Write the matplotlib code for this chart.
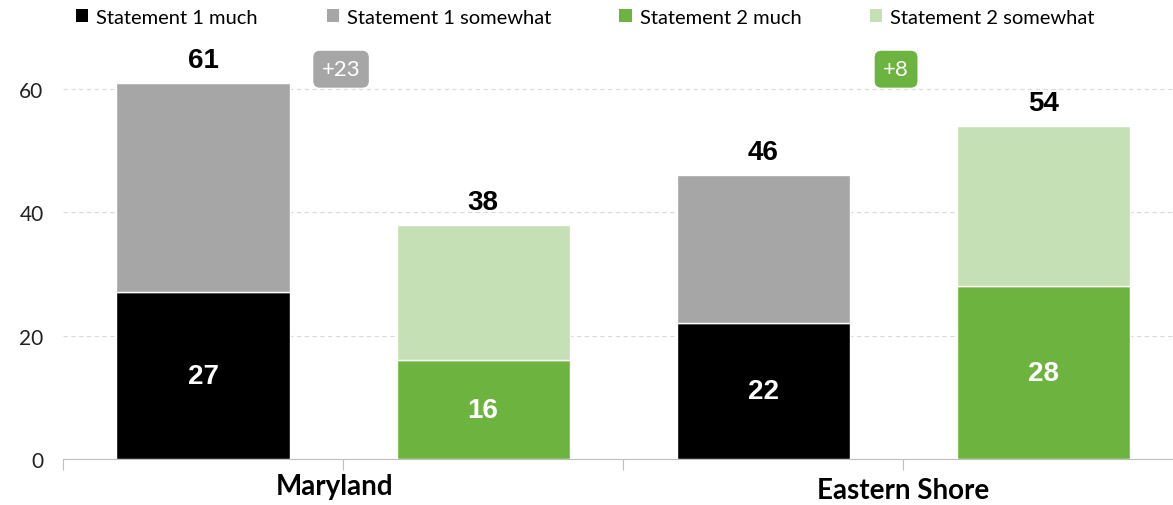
import numpy as np
import matplotlib.pyplot as plt
from matplotlib.patches import Patch

plt.rcParams['font.family'] = ['Lato', 'DejaVu Sans']

# data
groups = ['Maryland', 'Eastern Shore']
much = [27, 16, 22, 28]
somewhat = [34, 22, 24, 26]
totals = [61, 38, 46, 54]
diffs = ['+23', '+8']
much_colors = ['#000000', '#6DB33F', '#000000', '#6DB33F']
some_colors = ['#A6A6A6', '#C5E0B4', '#A6A6A6', '#C5E0B4']
legend_labels = ['Statement 1 much', 'Statement 1 somewhat', 'Statement 2 much', 'Statement 2 somewhat']
legend_colors = ['#000000', '#A6A6A6', '#6DB33F', '#C5E0B4']

fig = plt.figure(figsize=(11.73, 5.06), dpi=100)
ax = fig.add_axes([63 / 1173, 46 / 506, 1 - 63 / 1173, 431.7 / 506])

x = np.arange(len(much))
w = 0.618
ax.bar(x, much, w, color=much_colors, edgecolor='white', linewidth=1, zorder=3)
ax.bar(x, somewhat, w, bottom=much, color=some_colors, edgecolor='white', linewidth=1, zorder=3)

for i in range(len(x)):
    ax.text(x[i], totals[i] + 1.6, str(totals[i]), ha='center', va='bottom',
            fontsize=20, fontweight='bold', family='Liberation Sans')
    ax.text(x[i], much[i] / 2, str(much[i]), ha='center', va='center', color='white',
            fontsize=20, fontweight='bold', family='Liberation Sans')

# difference badges
badge_cols = ['#A6A6A6', '#6DB33F']
for j, (xx, d) in enumerate(zip([0.493, 2.475], diffs)):
    ax.text(xx, 63.2, d, ha='center', va='center', color='white', fontsize=16,
            bbox=dict(boxstyle='round,pad=0.38,rounding_size=0.3', fc=badge_cols[j], ec='none'))

ax.set_xlim(-0.5, 3.464)
ax.set_ylim(0, 70)
ax.set_yticks([0, 20, 40, 60])
ax.tick_params(axis='y', length=0, labelsize=15, pad=14)
ax.yaxis.grid(True, color='#D9D9D9', linestyle=(0, (4, 3)), linewidth=0.8, zorder=0)
for lab in ax.get_yticklabels():
    lab.set_color('#222222')

ax.set_xticks([-0.5, 0.5, 1.5, 2.5])
ax.set_xticklabels([])
ax.tick_params(axis='x', length=8, color='#BFBFBF', direction='out')
for s in ['top', 'right', 'left']:
    ax.spines[s].set_visible(False)
ax.spines['bottom'].set_color('#BFBFBF')

ax.text(0.47, -4.4, groups[0], ha='center', va='center', fontsize=20, fontweight='bold')
ax.text(2.5, -5.0, groups[1], ha='center', va='center', fontsize=20, fontweight='bold')

handles = [Patch(facecolor=c, edgecolor='none') for c in legend_colors]
fig.legend(handles, legend_labels, loc='center', bbox_to_anchor=(0.499, 0.964), ncol=4,
           frameon=False, fontsize=14.5, handlelength=0.6, handleheight=0.6,
           handletextpad=0.4, columnspacing=3.4)

fig.savefig('out.png', dpi=100)
